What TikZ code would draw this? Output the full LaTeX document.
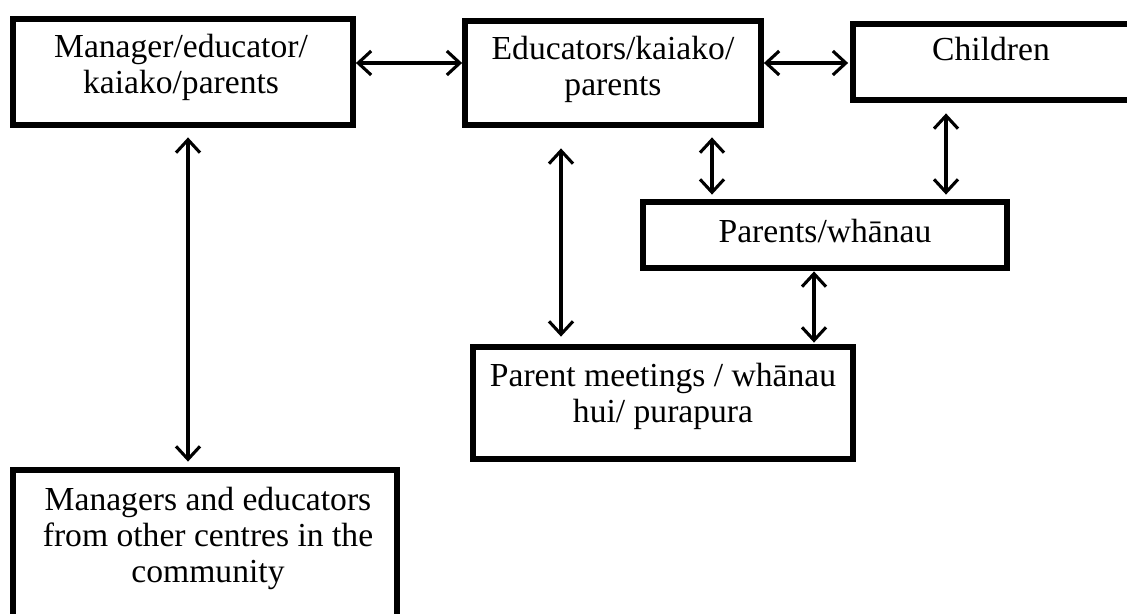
\documentclass[tikz,border=0pt]{standalone}
\usepackage{fontspec}
\setmainfont{Liberation Serif}
\usetikzlibrary{arrows.meta}

\tikzset{
  box/.style={draw, line width=2.9pt, inner sep=0pt},
  label text/.style={font=\fontsize{16.8pt}{18pt}\selectfont, align=center, inner sep=0pt},
  link/.style={line width=1.55pt, {Straight Barb[length=6.5pt,width=12pt]}-{Straight Barb[length=6.5pt,width=12pt]}}
}

\begin{document}
\begin{tikzpicture}[x=0.5pt, y=-0.5pt]
  \useasboundingbox (0,0) rectangle (1127,614);
  \clip (0,0) rectangle (1127,614);
  \fill[white] (0,0) rectangle (1127,614);

  % boxes
  \node[box, minimum width=170pt, minimum height=53pt] (mgr) at (183,72) {};
  \node[box, minimum width=148pt, minimum height=52pt] (edu) at (613,73) {};
  \node[box, minimum width=139.5pt, minimum height=38pt] (chi) at (992.5,62) {};
  \node[box, minimum width=182pt, minimum height=33pt] (par) at (825,235) {};
  \node[box, minimum width=190pt, minimum height=56pt] (mtg) at (663,403) {};
  \node[box, minimum width=192pt, minimum height=85pt] (oth) at (205,555) {};

  % texts
  \node[label text] (tmgr) at (181,67) {Manager/educator/\\kaiako/parents};
  \node[label text] (tedu) at (613,69) {Educators/kaiako/\\parents};
  \node[label text] (tchi) at (991,49) {Children};
  \node[label text] (tpar) at (825,231) {Parents/whānau};
  \node[label text] (tmtg) at (663,396) {Parent meetings / whānau\\hui/ purapura};
  \node[label text] (toth) at (208,538) {Managers and educators\\from other centres in the\\community};

  % connector rows and columns
  \coordinate (row) at (0,63);
  \coordinate (c1) at (188,0);
  \coordinate (c2) at (561,0);
  \coordinate (c3) at (712,0);
  \coordinate (c4) at (946,0);
  \coordinate (c5) at (814,0);

  % connectors
  \draw[link] (mgr.east |- row) -- (edu.west |- row);
  \draw[link, shorten >=1pt] (edu.east |- row) -- (chi.west |- row);
  \draw[link, shorten <=4.75pt, shorten >=2.75pt] (mgr.south -| c1) -- (oth.north -| c1);
  \draw[link, shorten <=10.25pt, shorten >=3.75pt] (edu.south -| c2) -- (mtg.north -| c2);
  \draw[link, shorten <=4.75pt, shorten >=2.25pt] (edu.south -| c3) -- (par.north -| c3);
  \draw[link, shorten <=5.25pt, shorten >=2.25pt] (chi.south -| c4) -- (par.north -| c4);
  \draw[link, shorten <=0.25pt, shorten >=0.75pt] (par.south -| c5) -- (mtg.north -| c5);
\end{tikzpicture}
\end{document}
